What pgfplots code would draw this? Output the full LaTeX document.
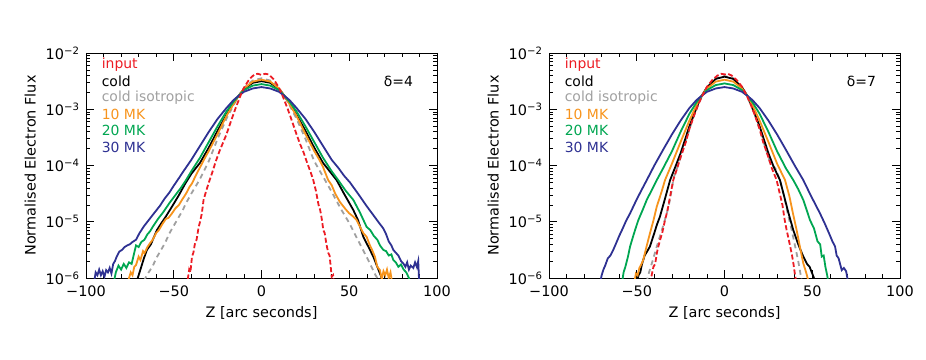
\documentclass[border=0pt]{standalone}
\usepackage{fontspec}
\setmainfont{DejaVu Sans}
\usepackage{pgfplots}
\pgfplotsset{compat=1.18}
\definecolor{cred}{RGB}{236,28,36}
\definecolor{cgray}{RGB}{160,160,160}
\definecolor{corange}{RGB}{247,148,29}
\definecolor{cgreen}{RGB}{0,166,81}
\definecolor{cblue}{RGB}{46,49,146}
\newcommand{\fs}{\fontsize{14.5}{16}\selectfont}
\newcommand{\fl}{\fontsize{14}{16}\selectfont}
\pgfplotsset{every axis/.append style={
  scale only axis, width=351bp, height=225bp,
  xmin=-100, xmax=100, ymin=1e-6, ymax=1e-2,
  xtick={-100,-50,0,50,100}, xticklabels={−100,−50,0,50,100},
  minor xtick={-90,-80,-70,-60,-40,-30,-20,-10,10,20,30,40,60,70,80,90},
  ytick={1e-6,1e-5,1e-4,1e-3,1e-2},
  yticklabels={10\textsuperscript{−6},10\textsuperscript{−5},10\textsuperscript{−4},10\textsuperscript{−3},10\textsuperscript{−2}},
  minor ytick={2e-6,3e-6,4e-6,5e-6,6e-6,7e-6,8e-6,9e-6,2e-5,3e-5,4e-5,5e-5,6e-5,7e-5,8e-5,9e-5,2e-4,3e-4,4e-4,5e-4,6e-4,7e-4,8e-4,9e-4,2e-3,3e-3,4e-3,5e-3,6e-3,7e-3,8e-3,9e-3},
  tick align=inside, major tick length=8bp, minor tick length=4bp,
  tick style={black, line width=0.6pt},
  axis line style={line width=0.9pt},
  tick label style={font=\fs},
  xticklabel style={yshift=-4bp},
  yticklabel style={xshift=-3bp},
  label style={font=\fs},
  xlabel={Z [arc seconds]}, ylabel={Normalised Electron Flux},
  xlabel style={yshift=-3bp}, ylabel style={yshift=3bp},
  every axis plot/.append style={line width=1.8bp, mark=none},
}}
\newcommand{\legendtext}[1]{%
  \node[anchor=west, text=cred, font=\fl] at (rel axis cs:0.035,0.947) {input};
  \node[anchor=west, text=black, font=\fl] at (rel axis cs:0.035,0.874) {cold};
  \node[anchor=west, text=cgray, font=\fl] at (rel axis cs:0.035,0.801) {cold isotropic};
  \node[anchor=west, text=corange, font=\fl] at (rel axis cs:0.035,0.728) {10 MK};
  \node[anchor=west, text=cgreen, font=\fl] at (rel axis cs:0.035,0.655) {20 MK};
  \node[anchor=west, text=cblue, font=\fl] at (rel axis cs:0.035,0.582) {30 MK};
  \node[text=black, font=\fl] at (rel axis cs:0.89,0.872) {δ=#1};
}
\begin{document}
\begin{tikzpicture}
\path[use as bounding box] (0,0) rectangle (926bp,360bp);
% ---------------- delta = 4 ----------------
\begin{semilogyaxis}[at={(86bp,82bp)}, anchor=south west]
% cold isotropic
\addplot[cgray, dash pattern=on 5bp off 4bp] coordinates {
(-67,8.9e-7) (-65,1.17e-6) (-62,1.62e-6) (-60,2.24e-6) (-55,4.17e-6) (-52.5,6.2e-6) (-50,8.5e-6) (-45,1.58e-5) (-43,2.14e-5) (-40,3.16e-5) (-35.4,5.5e-5) (-30,1.2e-4) (-25,3.0e-4) (-20,6.76e-4) (-16,1.17e-3) (-13,1.74e-3) (-10,2.4e-3) (-5,3.24e-3) (0,3.55e-3) (5,3.24e-3) (10,2.4e-3) (13,1.74e-3) (16,1.17e-3) (20,6.76e-4) (25,3.0e-4) (30,1.2e-4) (36.2,5.5e-5) (40,3.4e-5) (45,1.74e-5) (50,9.5e-6) (55,4.68e-6) (60,2.34e-6) (65,1.12e-6) (67,8.9e-7)};
% cold
\addplot[black] coordinates {
(-71,8.9e-7) (-69,1.41e-6) (-67,2.24e-6) (-65.3,3.16e-6) (-63,3.98e-6) (-61,5.6e-6) (-59.6,7.1e-6) (-57,9.5e-6) (-55,1.17e-5) (-51,1.86e-5) (-47,3.0e-5) (-43.4,4.8e-5) (-40,7.1e-5) (-35,1.12e-4) (-30,2.09e-4) (-25,4.17e-4) (-20,7.9e-4) (-16,1.26e-3) (-13,1.74e-3) (-10,2.29e-3) (-5,2.95e-3) (0,3.16e-3) (5,2.95e-3) (10,2.29e-3) (13,1.74e-3) (16,1.26e-3) (20,7.9e-4) (25,4.17e-4) (30,2.09e-4) (35,1.12e-4) (40,7.1e-5) (42.8,5.5e-5) (47,3.16e-5) (52.3,1.62e-5) (55,1.07e-5) (58,5.4e-6) (61,3.55e-6) (63.7,2.4e-6) (66,1.58e-6) (68.5,1.0e-6) (69.5,7.9e-7)};
% 10 MK
\addplot[corange] coordinates {
(-76,8.9e-7) (-74.5,1.26e-6) (-73.5,1.12e-6) (-72.5,1.58e-6) (-71.5,1.7e-6) (-70,2.4e-6) (-69,2.09e-6) (-67.5,3.0e-6) (-66.7,2.75e-6) (-65,3.55e-6) (-63.5,4.17e-6) (-62,4.79e-6) (-60,6.3e-6) (-58.5,7.1e-6) (-56.3,9.3e-6) (-54.5,1.12e-5) (-53,1.17e-5) (-51,1.41e-5) (-49,1.74e-5) (-47,2.0e-5) (-45.3,2.45e-5) (-43,3.16e-5) (-41,4.17e-5) (-39.6,4.8e-5) (-37,7.1e-5) (-35,9.3e-5) (-32,1.41e-4) (-30,1.82e-4) (-25,3.63e-4) (-20,7.6e-4) (-16,1.23e-3) (-13,1.74e-3) (-10,2.34e-3) (-5,3.1e-3) (0,3.35e-3) (5,3.1e-3) (10,2.34e-3) (13,1.74e-3) (16,1.23e-3) (20,7.6e-4) (25,3.63e-4) (30,1.82e-4) (33,1.26e-4) (35,9.5e-5) (38,5.5e-5) (40,4.47e-5) (42,3.16e-5) (44.7,2.24e-5) (46.5,1.9e-5) (48,1.66e-5) (50,1.41e-5) (52,1.26e-5) (54.2,1.07e-5) (56,8.3e-6) (58,6.3e-6) (59.9,5.4e-6) (61.5,3.98e-6) (63,3.16e-6) (64.6,2.4e-6) (66,1.58e-6) (67.5,1.38e-6) (68.5,9.5e-7) (69.5,1.32e-6) (70.5,1.12e-6) (71.5,1.41e-6) (72.5,1.0e-6) (73.5,1.26e-6) (74.5,7.9e-7)};
% 20 MK
\addplot[cgreen] coordinates {
(-84,8.9e-7) (-83,1.26e-6) (-81.5,1.66e-6) (-80,1.41e-6) (-78.5,1.78e-6) (-77,1.51e-6) (-75.5,1.9e-6) (-74,1.78e-6) (-72.5,2.82e-6) (-71.5,3.8e-6) (-70,3.55e-6) (-68.5,4.37e-6) (-66.7,4.79e-6) (-65,6.0e-6) (-63.5,6.76e-6) (-62,8.1e-6) (-59,1.12e-5) (-56,1.48e-5) (-52.5,2.14e-5) (-49,3.0e-5) (-46,3.98e-5) (-43,5.5e-5) (-40,7.9e-5) (-35,1.38e-4) (-30,2.63e-4) (-25,5.0e-4) (-20,9.1e-4) (-16,1.35e-3) (-13,1.74e-3) (-10,2.19e-3) (-5,2.63e-3) (0,2.8e-3) (5,2.63e-3) (10,2.19e-3) (13,1.74e-3) (16,1.35e-3) (20,9.1e-4) (25,5.0e-4) (30,2.63e-4) (35,1.38e-4) (40,7.9e-5) (43.7,5.5e-5) (48,3.55e-5) (52.3,2.45e-5) (56,1.48e-5) (59.9,8.1e-6) (62,7.1e-6) (64,5.6e-6) (66,4.79e-6) (67.5,3.8e-6) (69.4,3.16e-6) (71,3.0e-6) (72.5,2.51e-6) (74,2.63e-6) (75.1,2.09e-6) (76.5,1.9e-6) (78,1.58e-6) (79.5,1.74e-6) (81,1.41e-6) (82.5,1.26e-6) (84,1.0e-6) (85,7.9e-7)};
% 30 MK
\addplot[cblue] coordinates {
(-95.5,7.9e-7) (-94.5,1.26e-6) (-93.5,1.12e-6) (-92.5,1.41e-6) (-91.5,1.12e-6) (-90.5,1.32e-6) (-89.5,1.05e-6) (-88.5,1.38e-6) (-87.5,1.26e-6) (-86.5,1.51e-6) (-85.5,1.2e-6) (-84.5,1.78e-6) (-83.5,2.0e-6) (-82.5,2.4e-6) (-81,2.95e-6) (-79.5,3.16e-6) (-78,3.55e-6) (-76.5,3.8e-6) (-75,3.98e-6) (-73.5,4.37e-6) (-71.5,4.79e-6) (-69.5,6.3e-6) (-67,8.3e-6) (-65,1.0e-5) (-62,1.32e-5) (-58,1.9e-5) (-55,2.63e-5) (-52.5,3.3e-5) (-50,4.37e-5) (-47,6.0e-5) (-44,8.3e-5) (-40,1.26e-4) (-35,2.24e-4) (-30,3.98e-4) (-25,6.76e-4) (-20,1.05e-3) (-16,1.45e-3) (-13,1.74e-3) (-10,2.04e-3) (-5,2.34e-3) (0,2.48e-3) (5,2.34e-3) (10,2.04e-3) (13,1.74e-3) (16,1.45e-3) (20,1.05e-3) (25,6.76e-4) (30,3.98e-4) (35,2.24e-4) (40,1.26e-4) (44,8.9e-5) (47,6.6e-5) (50.4,5.0e-5) (55,3.16e-5) (59.9,1.9e-5) (63,1.41e-5) (66,1.05e-5) (69.4,7.6e-6) (71,6.0e-6) (72.5,4.47e-6) (74,3.8e-6) (75.1,3.16e-6) (76.5,2.82e-6) (78,2.51e-6) (79.5,2.0e-6) (80.8,1.82e-6) (82,1.58e-6) (83,1.9e-6) (84,1.41e-6) (85,1.66e-6) (86.5,1.51e-6) (87.5,1.9e-6) (88.5,1.58e-6) (89.3,2.0e-6) (90,6.3e-7)};
% input
\addplot[cred, dash pattern=on 5bp off 2.5bp] coordinates {
(-43.5,7.08e-7) (-42,9.5e-7) (-41.2,1.41e-6) (-40.5,1.26e-6) (-39.6,2.4e-6) (-38.8,2.82e-6) (-38,3.98e-6) (-37,4.79e-6) (-35.8,8.1e-6) (-35,1.0e-5) (-34,1.41e-5) (-33,2.45e-5) (-31.5,3.55e-5) (-30,5.0e-5) (-28,7.6e-5) (-26,1.2e-4) (-24,1.78e-4) (-22,2.51e-4) (-20,3.55e-4) (-17.5,6.0e-4) (-15,1.0e-3) (-12,1.74e-3) (-10,2.4e-3) (-7,3.4e-3) (-4,4.17e-3) (-2,4.27e-3) (0,4.07e-3) (2,4.27e-3) (4,4.17e-3) (7,3.4e-3) (10,2.4e-3) (12,1.74e-3) (15,1.0e-3) (17.5,6.0e-4) (20,3.55e-4) (22,2.4e-4) (24,1.7e-4) (26,1.12e-4) (28,7.6e-5) (29.5,5.5e-5) (31,3.55e-5) (32.5,2.0e-5) (33.5,1.58e-5) (34.5,1.05e-5) (35.2,7.1e-6) (36,6.3e-6) (37,3.98e-6) (38,2.82e-6) (38.8,2.51e-6) (39.5,1.51e-6) (40,1.05e-6) (40.8,1.12e-6) (41.5,7.1e-7)};
\legendtext{4}
\end{semilogyaxis}
% ---------------- delta = 7 ----------------
\begin{semilogyaxis}[at={(549bp,82bp)}, anchor=south west]
% cold isotropic
\addplot[cgray, dash pattern=on 5bp off 4bp] coordinates {
(-44.5,8.3e-7) (-43,1.26e-6) (-41,2.0e-6) (-38.6,3.63e-6) (-36,6.6e-6) (-32.9,1.41e-5) (-31,2.51e-5) (-29,6.0e-5) (-26,1.12e-4) (-22,2.75e-4) (-18,6.9e-4) (-15,1.2e-3) (-13,1.66e-3) (-10,2.4e-3) (-5,3.55e-3) (0,3.89e-3) (5,3.55e-3) (10,2.4e-3) (13,1.66e-3) (15,1.2e-3) (18,6.9e-4) (22,2.75e-4) (26,1.12e-4) (29,8.9e-5) (31.6,5.5e-5) (34,2.82e-5) (36,1.41e-5) (38.3,7.1e-6) (40,3.98e-6) (42,2.0e-6) (44,8.9e-7)};
% cold
\addplot[black] coordinates {
(-50,7.9e-7) (-49,1.12e-6) (-48,1.26e-6) (-47,1.78e-6) (-45.5,2.51e-6) (-44,3.0e-6) (-42.5,3.63e-6) (-40,6.3e-6) (-38.5,8.9e-6) (-36.8,1.23e-5) (-34,2.51e-5) (-31,5.5e-5) (-28,9.5e-5) (-25,1.66e-4) (-20,5.0e-4) (-15,1.26e-3) (-13,1.74e-3) (-10,2.45e-3) (-5,3.47e-3) (0,3.8e-3) (5,3.47e-3) (10,2.45e-3) (13,1.74e-3) (15,1.26e-3) (20,5.0e-4) (25,1.66e-4) (28,9.5e-5) (31.6,5.5e-5) (34,2.82e-5) (36.5,1.41e-5) (39.2,7.1e-6) (42,3.98e-6) (44.9,2.4e-6) (47,1.78e-6) (48.5,1.58e-6) (50,1.2e-6) (51.6,8.9e-7)};
% 10 MK
\addplot[corange] coordinates {
(-51.5,7.9e-7) (-50.5,1.2e-6) (-49.5,1.12e-6) (-48.5,1.51e-6) (-47.3,1.78e-6) (-46.3,2.09e-6) (-44.5,3.55e-6) (-42.5,6.2e-6) (-40.5,1.05e-5) (-38.6,1.86e-5) (-36,3.3e-5) (-33.9,5.5e-5) (-30,1.07e-4) (-25,2.63e-4) (-20,6.3e-4) (-16,1.17e-3) (-13,1.74e-3) (-10,2.34e-3) (-5,3.1e-3) (0,3.35e-3) (5,3.1e-3) (10,2.34e-3) (13,1.74e-3) (16,1.17e-3) (20,6.3e-4) (25,2.63e-4) (30,1.07e-4) (34.5,5.5e-5) (37,2.82e-5) (39,1.41e-5) (41.1,7.1e-6) (43,3.55e-6) (44.9,1.82e-6) (46.5,1.26e-6) (47.8,8.9e-7)};
% 20 MK
\addplot[cgreen] coordinates {
(-58.5,7.9e-7) (-57.5,1.26e-6) (-56.5,1.58e-6) (-55,2.4e-6) (-53.8,3.63e-6) (-52,5.6e-6) (-50.5,7.9e-6) (-49.1,1.07e-5) (-46.5,1.66e-5) (-44.3,2.45e-5) (-41.5,3.63e-5) (-38.6,5.5e-5) (-35,8.9e-5) (-30,1.78e-4) (-25,3.98e-4) (-20,8.3e-4) (-16,1.32e-3) (-13,1.74e-3) (-10,2.19e-3) (-5,2.69e-3) (0,2.88e-3) (5,2.69e-3) (10,2.19e-3) (13,1.74e-3) (16,1.32e-3) (20,8.3e-4) (25,3.98e-4) (30,1.78e-4) (35,8.9e-5) (39.2,5.5e-5) (42,3.8e-5) (45,2.4e-5) (48.7,1.07e-5) (51,7.6e-6) (53,4.47e-6) (54.5,3.98e-6) (55.4,2.4e-6) (56.5,2.51e-6) (57.5,1.58e-6) (58.5,1.12e-6) (59.3,7.9e-7)};
% 30 MK
\addplot[cblue] coordinates {
(-71,7.9e-7) (-70,1.12e-6) (-69,1.41e-6) (-68,1.66e-6) (-66.5,2.24e-6) (-65,2.51e-6) (-63.4,3.16e-6) (-62,3.98e-6) (-60,5.6e-6) (-58,7.6e-6) (-56,1.05e-5) (-53.8,1.41e-5) (-50,2.51e-5) (-47,3.8e-5) (-44.3,5.5e-5) (-40,1.0e-4) (-35,1.9e-4) (-30,3.55e-4) (-25,6.3e-4) (-20,1.05e-3) (-16,1.45e-3) (-13,1.74e-3) (-10,2.04e-3) (-5,2.34e-3) (0,2.48e-3) (5,2.34e-3) (10,2.04e-3) (13,1.74e-3) (16,1.45e-3) (20,1.05e-3) (25,6.3e-4) (30,3.55e-4) (35,1.9e-4) (40,1.0e-4) (44.9,5.5e-5) (49,3.0e-5) (54.4,1.41e-5) (57,9.5e-6) (59.5,6.3e-6) (61.5,4.47e-6) (63,3.63e-6) (63.9,2.51e-6) (65,2.24e-6) (66.8,1.38e-6) (68,1.51e-6) (69.3,1.32e-6) (70.6,7.9e-7)};
% input
\addplot[cred, dash pattern=on 5bp off 2.5bp] coordinates {
(-42,7.9e-7) (-41.5,1.12e-6) (-40.5,1.58e-6) (-39.5,1.78e-6) (-38.5,2.82e-6) (-37.7,3.63e-6) (-36.5,5.0e-6) (-35.5,6.3e-6) (-33.9,1.07e-5) (-32.5,1.58e-5) (-31,2.82e-5) (-29.2,5.5e-5) (-27,8.9e-5) (-25,1.41e-4) (-22,2.63e-4) (-20,4.47e-4) (-17,8.3e-4) (-15,1.2e-3) (-13,1.66e-3) (-10,2.51e-3) (-7,3.3e-3) (-4,3.98e-3) (-2,4.27e-3) (0,4.17e-3) (2,4.27e-3) (4,3.98e-3) (7,3.3e-3) (10,2.51e-3) (13,1.66e-3) (15,1.2e-3) (17,8.3e-4) (20,4.47e-4) (22,2.63e-4) (25,1.41e-4) (27,8.9e-5) (29.7,5.5e-5) (31.5,3.16e-5) (33,2.0e-5) (34.2,1.12e-5) (35.4,7.1e-6) (36.5,5.0e-6) (37.5,3.55e-6) (38.5,2.51e-6) (39.3,1.78e-6) (40.2,1.12e-6) (41,7.9e-7)};
\legendtext{7}
\end{semilogyaxis}
\end{tikzpicture}
\end{document}
